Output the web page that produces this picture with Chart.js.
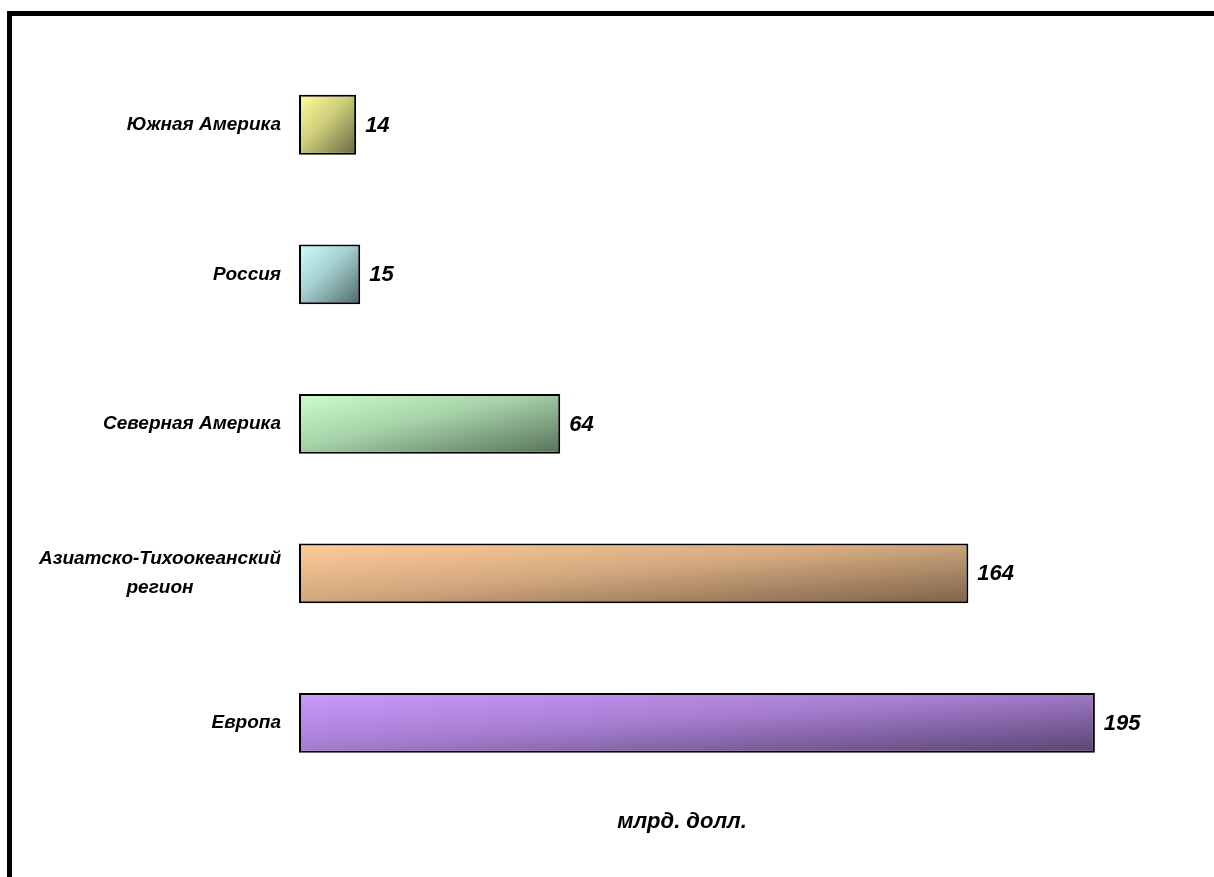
<!DOCTYPE html>
<html>
<head>
<meta charset="utf-8">
<title>Регионы, млрд. долл.</title>
<script src="https://cdn.jsdelivr.net/npm/chart.js@4.4.1/dist/chart.umd.min.js"></script>
<style>
    html, body { margin: 0; padding: 0; background: #fff; overflow: hidden; }
    #frame {
        position: absolute;
        left: 7px;
        top: 11px;
        width: 1340px;
        height: 900px;
        border: 5px solid #000;
        background: #fff;
    }
    #chart { display: block; }
</style>
</head>
<body>
<div id="frame"><canvas id="chart" width="1340" height="861"></canvas></div>
<script>
// Data
const categories = ["Южная Америка", "Россия", "Северная Америка", ["Азиатско-Тихоокеанский", "регион"], "Европа"];
const values = [14, 15, 64, 164, 195];
const unitLabel = "млрд. долл.";

// Bar colours: light corner -> dark corner
const lightColors = ["#FFFF99", "#CCFFFF", "#CCFFCC", "#FFCC99", "#CC99FF"];
const darkColors = ["#66663D", "#4F6868", "#56715A", "#7D634A", "#584470"];

const FONT = '"Liberation Sans", Arial, sans-serif';

function mix(a, b, t) {
    const pa = [1, 3, 5].map(k => parseInt(a.substr(k, 2), 16));
    const pb = [1, 3, 5].map(k => parseInt(b.substr(k, 2), 16));
    return "rgb(" + pa.map((v, k) => Math.round(v + (pb[k] - v) * t)).join(",") + ")";
}

// Diagonal gradient for each bar, built from the scales
function barGradient(context) {
    const chart = context.chart;
    const i = context.dataIndex;
    if (!chart.chartArea || !chart.scales.x || i === undefined) return lightColors[i] || "#ccc";
    const xs = chart.scales.x;
    const ys = chart.scales.y;
    const x0 = xs.getPixelForValue(0);
    const x1 = xs.getPixelForValue(values[i]);
    const band = Math.abs(ys.getPixelForValue(1) - ys.getPixelForValue(0));
    const h = band * 0.4;
    const top = ys.getPixelForValue(i) - h / 2;
    const w = x1 - x0;
    const d = w * w + h * h;
    const g = chart.ctx.createLinearGradient(x0, top, x0 + 2 * w * h * h / d, top + 2 * w * w * h / d);
    g.addColorStop(0, lightColors[i]);
    g.addColorStop(0.45, mix(lightColors[i], darkColors[i], 0.32));
    g.addColorStop(1, darkColors[i]);
    return g;
}

// Category and value labels
const barLabels = {
    id: "barLabels",
    afterDatasetsDraw(chart) {
        const { ctx, chartArea, scales } = chart;
        ctx.save();
        ctx.fillStyle = "#000";
        ctx.textBaseline = "middle";

        ctx.font = "italic bold 19px " + FONT;
        ctx.textAlign = "center";
        categories.forEach((label, i) => {
            const lines = Array.isArray(label) ? label : [label];
            const yc = scales.y.getPixelForValue(i);
            const right = chartArea.left - 18;
            const widest = Math.max(...lines.map(l => ctx.measureText(l).width));
            lines.forEach((line, k) => {
                ctx.fillText(line, right - widest / 2, yc + (k - (lines.length - 1) / 2) * 29);
            });
        });

        ctx.font = "italic bold 22px " + FONT;
        ctx.textAlign = "left";
        chart.getDatasetMeta(0).data.forEach((bar, i) => {
            ctx.fillText(String(values[i]), bar.x + 9, bar.y + 1);
        });
        ctx.restore();
    }
};

const ctx = document.getElementById("chart").getContext("2d");
new Chart(ctx, {
    type: "bar",
    data: {
        labels: categories,
        datasets: [{
            data: values,
            backgroundColor: barGradient,
            borderColor: "#000",
            borderWidth: 2,
            borderSkipped: false,
            barPercentage: 0.4,
            categoryPercentage: 1
        }]
    },
    options: {
        indexAxis: "y",
        responsive: false,
        animation: false,
        layout: { padding: { top: 34, left: 0, right: 0, bottom: 0 } },
        scales: {
            x: { display: false, min: 0, max: 258 },
            y: {
                display: true,
                ticks: { display: false },
                grid: { display: false },
                border: { display: false },
                afterFit(scale) { scale.width = 287; }
            }
        },
        plugins: {
            legend: { display: false },
            tooltip: { enabled: false },
            title: {
                display: true,
                position: "bottom",
                text: unitLabel,
                color: "#000",
                font: { family: FONT, size: 22, style: "italic", weight: "bold" },
                padding: { top: 11, bottom: 42 }
            }
        }
    },
    plugins: [barLabels]
});
</script>
</body>
</html>
